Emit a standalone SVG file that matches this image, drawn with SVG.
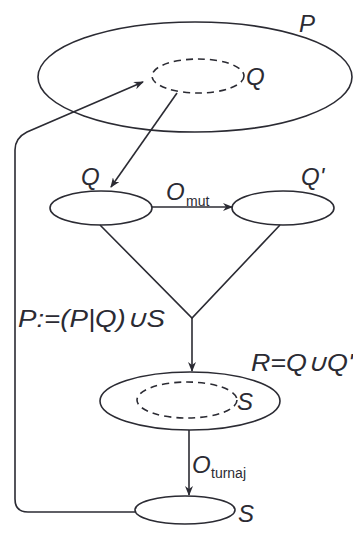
<svg xmlns="http://www.w3.org/2000/svg" width="353" height="534" viewBox="0 0 353 534">
<defs>
<style>
.s{fill:none;stroke:#2b2b33;stroke-width:1.6}
.d{fill:none;stroke:#2b2b33;stroke-width:1.6;stroke-dasharray:7 5}
.t{font-family:"Liberation Sans",Arial,sans-serif;font-style:italic;font-size:24px;fill:#2b2b33}
.sub{font-family:"Liberation Sans",Arial,sans-serif;font-size:14px;fill:#2b2b33}
</style>
<marker id="ah" markerWidth="10" markerHeight="8" refX="9" refY="4" orient="auto" markerUnits="userSpaceOnUse">
<path d="M0,0 L10,4 L0,8 L3,4 Z" fill="#2b2b33"/>
</marker>
</defs>
<rect width="353" height="534" fill="#ffffff"/>
<g id="nodeP">
<ellipse class="s" cx="195" cy="77" rx="157" ry="55"/>
<text class="t" x="299" y="32">P</text>
</g>
<g id="nodeQin">
<ellipse class="d" cx="198" cy="76" rx="46" ry="17"/>
<text class="t" x="246" y="85">Q</text>
</g>
<g id="nodeQ">
<ellipse class="s" cx="101" cy="208" rx="51" ry="17"/>
<text class="t" x="81" y="185">Q</text>
</g>
<g id="nodeQp">
<ellipse class="s" cx="283" cy="208" rx="51" ry="17"/>
<text class="t" x="301" y="185">Q'</text>
</g>
<g id="nodeR">
<ellipse class="s" cx="190" cy="401" rx="90" ry="29"/>
<text class="t" x="251" y="371" textLength="102" lengthAdjust="spacingAndGlyphs">R=Q∪Q'</text>
</g>
<g id="nodeSin">
<ellipse class="d" cx="187" cy="400" rx="50" ry="18"/>
<text class="t" x="237" y="410">S</text>
</g>
<g id="nodeS">
<ellipse class="s" cx="185" cy="510" rx="50" ry="14"/>
<text class="t" x="238" y="522">S</text>
</g>
<g id="connectors">
<line class="s" x1="177" y1="93" x2="111" y2="187" marker-end="url(#ah)"/>
<line class="s" x1="152" y1="207" x2="232" y2="207" marker-end="url(#ah)"/>
<polyline class="s" points="100,225 192,318 280,225"/>
<line class="s" x1="192" y1="318" x2="192" y2="371" marker-end="url(#ah)"/>
<line class="s" x1="189" y1="430" x2="189" y2="495" marker-end="url(#ah)"/>
<path class="s" d="M135,512 L28,512 Q15,512 15,499 L15,150 Q15,138 27,132 L143,82" marker-end="url(#ah)"/>
<text class="t" x="166" y="200">O</text>
<text class="sub" x="186" y="206">mut</text>
<text class="t" x="192" y="473">O</text>
<text class="sub" x="211" y="478">turnaj</text>
<text class="t" x="18" y="327" textLength="147" lengthAdjust="spacingAndGlyphs">P:=(P|Q)∪S</text>
</g>
</svg>
